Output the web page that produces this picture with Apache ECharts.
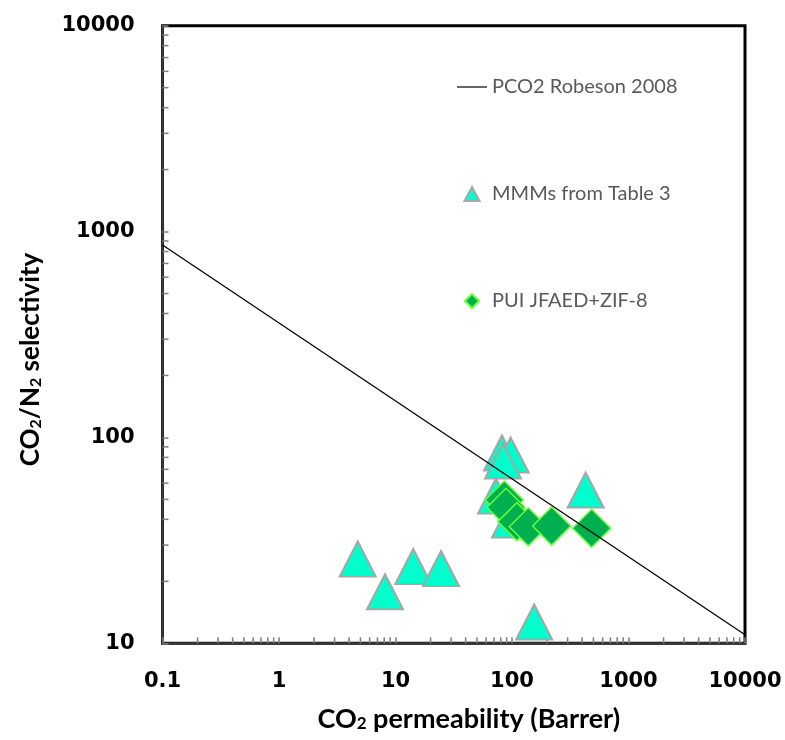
<!DOCTYPE html>
<html>
<head>
<meta charset="utf-8">
<script src="https://cdn.jsdelivr.net/npm/echarts@6/dist/echarts.min.js"></script>
<style>
  html, body { margin: 0; padding: 0; background: #fff; }
  #main { width: 785px; height: 740px; }
</style>
</head>
<body>
<div id="main"></div>
<script>
// Robeson 2008 upper bound, drawn through the two end points
var robesonLine = [[0.1, 860], [10000, 11]];

// MMMs from Table 3: [CO2 permeability, CO2/N2 selectivity]
var mmmPoints = [
    [4.74, 25.7], [8.13, 17.8], [14.2, 23.6], [24.6, 23.1], [155, 12.7], [429, 55.5],
    [82, 84], [97.5, 82.1], [83.7, 76.8], [72.9, 51.9], [96.2, 39.7]
];

// PUI JFAED+ZIF-8
var puiPoints = [
    [85.9, 49.7], [88.8, 45.8], [110, 39.0], [138, 36.8], [219, 37.1], [483, 36.2]
];

var xTickLabels = ['0.1', '1', '10', '100', '1000', '10000'];
var yTickLabels = ['10', '100', '1000', '10000'];
var seriesNames = ['PCO2 Robeson 2008', 'MMMs from Table 3', 'PUI JFAED+ZIF-8'];

// minor tick positions 2..9 x 10^n inside each decade
var xMinor = [], yMinor = [];
for (var e = -1; e < 4; e++) {
    for (var k = 2; k <= 9; k++) xMinor.push([k * Math.pow(10, e), 10]);
}
for (var e2 = 1; e2 < 4; e2++) {
    for (var k2 = 2; k2 <= 9; k2++) yMinor.push([0.1, k2 * Math.pow(10, e2)]);
}

var tickColor = '#7f7f7f';
var labelFont = { fontFamily: 'DejaVu Sans', fontWeight: 'bold', fontSize: 21, color: '#000' };
function nameFont(size, pad) {
    return {
        fontFamily: 'Lato', fontWeight: 'bold', fontSize: size, color: '#000', lineHeight: size,
        padding: pad,
        rich: { sub: { fontFamily: 'Lato', fontWeight: 'bold', fontSize: Math.round(size * 0.62),
            lineHeight: Math.round(size * 0.36), verticalAlign: 'bottom' } }
    };
}

var myChart = echarts.init(document.getElementById('main'));
var option = {
    animation: false,
    grid: {
        left: 162.5, right: 40, top: 25.7, bottom: 96.7,
        show: true, borderColor: '#000', borderWidth: 3
    },
    legend: {
        orient: 'vertical',
        left: 452,
        top: 72,
        itemGap: 87,
        itemWidth: 30,
        itemHeight: 14,
        symbolKeepAspect: true,
        data: [
            { name: seriesNames[0], icon: 'path://M0,0L30,0L30,1.2L0,1.2Z' },
            { name: seriesNames[1], icon: 'path://M7,0L14,13L0,13Z' },
            { name: seriesNames[2], icon: 'path://M6,0L12,6L6,12L0,6Z' }
        ],
        textStyle: { fontFamily: 'Lato', fontSize: 20, color: '#595959' }
    },
    xAxis: {
        type: 'log', logBase: 10, min: 0.1, max: 10000,
        name: 'CO{sub|2} permeability (Barrer)',
        nameLocation: 'middle', nameGap: 62,
        nameTextStyle: nameFont(27, [0, 0, 0, 30]),
        axisLine: { lineStyle: { color: '#3a3a3a', width: 2.5 } },
        axisTick: { inside: true, length: 6, lineStyle: { color: tickColor, width: 1.5 } },
        axisLabel: Object.assign({
            margin: 28,
            formatter: function (v) { return xTickLabels[Math.round(Math.log10(v)) + 1]; }
        }, labelFont),
        splitLine: { show: false }
    },
    yAxis: {
        type: 'log', logBase: 10, min: 10, max: 10000,
        name: 'CO{sub|2}/N{sub|2} selectivity',
        nameLocation: 'middle', nameGap: 119,
        nameTextStyle: nameFont(26, [0, 50, 0, 0]),
        axisLine: { lineStyle: { color: '#3a3a3a', width: 2.5 } },
        axisTick: { inside: true, length: 6, lineStyle: { color: tickColor, width: 1.5 } },
        axisLabel: Object.assign({
            margin: 28,
            formatter: function (v) { return yTickLabels[Math.round(Math.log10(v)) - 1]; }
        }, labelFont),
        splitLine: { show: false }
    },
    series: [
        {
            type: 'custom', silent: true, z: 1,
            data: xMinor,
            renderItem: function (params, api) {
                var p = api.coord([api.value(0), api.value(1)]);
                return { type: 'line', shape: { x1: p[0], y1: p[1], x2: p[0], y2: p[1] - 6 },
                    style: { stroke: tickColor, lineWidth: 1.5 } };
            }
        },
        {
            type: 'custom', silent: true, z: 1,
            data: yMinor,
            renderItem: function (params, api) {
                var p = api.coord([api.value(0), api.value(1)]);
                return { type: 'line', shape: { x1: p[0], y1: p[1], x2: p[0] + 6, y2: p[1] },
                    style: { stroke: tickColor, lineWidth: 1.5 } };
            }
        },
        {
            name: seriesNames[0],
            type: 'line',
            data: robesonLine,
            showSymbol: false,
            symbol: 'none',
            silent: true,
            lineStyle: { color: '#000', width: 1.3 },
            itemStyle: { color: '#000' }
        },
        {
            name: seriesNames[1],
            type: 'scatter',
            data: mmmPoints,
            symbol: 'triangle',
            symbolSize: [36, 35],
            itemStyle: { color: '#00ffcc', borderColor: '#a6a6a6', borderWidth: 2, opacity: 1 }
        },
        {
            name: seriesNames[2],
            type: 'scatter',
            data: puiPoints,
            symbol: 'diamond',
            symbolSize: 38,
            itemStyle: { color: '#00b050', borderColor: '#66ff33', borderWidth: 1.5, opacity: 1 }
        }
    ]
};
myChart.setOption(option);
</script>
</body>
</html>
